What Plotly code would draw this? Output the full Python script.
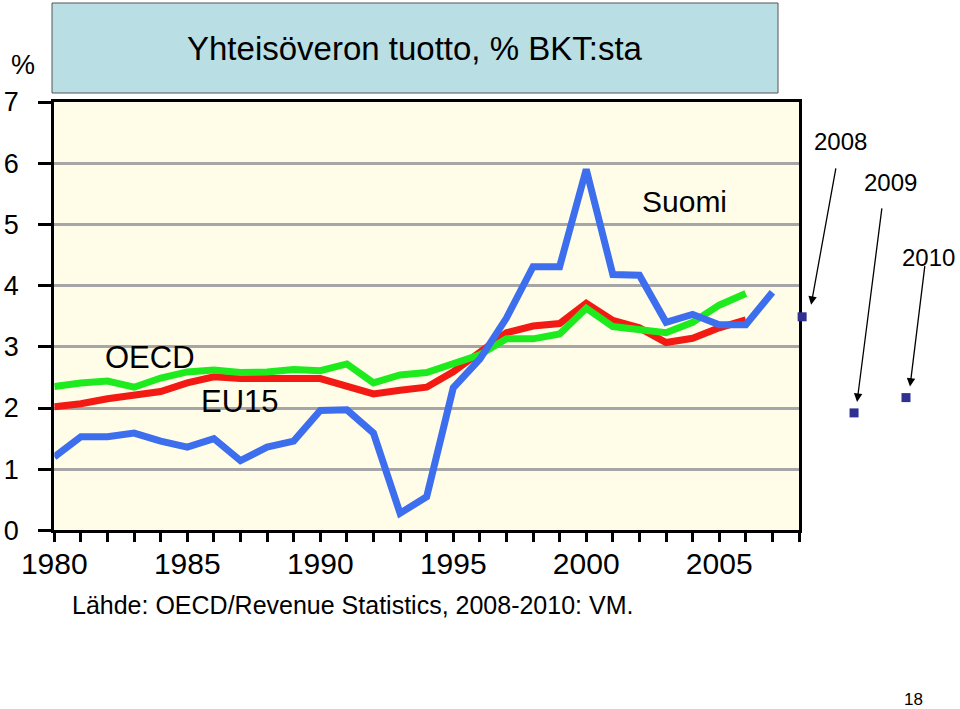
import plotly.graph_objects as go

W, H = 960, 709

years = list(range(1980, 2008))
suomi = [1.20, 1.53, 1.53, 1.59, 1.46, 1.36, 1.50, 1.14, 1.36, 1.46,
         1.96, 1.97, 1.59, 0.28, 0.55, 2.33, 2.80, 3.47, 4.31, 4.31,
         5.90, 4.18, 4.17, 3.40, 3.53, 3.36, 3.36, 3.89]
years_eu = list(range(1980, 2007))
eu15 = [2.02, 2.07, 2.15, 2.22, 2.27, 2.41, 2.51, 2.48, 2.49, 2.48,
        2.48, 2.35, 2.23, 2.29, 2.34, 2.59, 2.92, 3.23, 3.34, 3.38,
        3.71, 3.43, 3.31, 3.07, 3.14, 3.31, 3.44]
oecd = [2.35, 2.41, 2.44, 2.34, 2.49, 2.59, 2.62, 2.58, 2.59, 2.63,
        2.61, 2.72, 2.41, 2.54, 2.58, 2.74, 2.87, 3.13, 3.13, 3.21,
        3.63, 3.33, 3.28, 3.23, 3.40, 3.68, 3.87]
proj_years = [2008, 2009, 2010]
proj_vals = [3.49, 1.92, 2.17]
x_tickvals = [1980, 1985, 1990, 1995, 2000, 2005]
y_tickvals = [0, 1, 2, 3, 4, 5, 6, 7]

FONT = "Liberation Sans, Arial, sans-serif"

# pixel layout helpers
def px(x):
    return x / W

def py(y):
    return 1 - y / H

fig = go.Figure()
fig.add_trace(go.Scatter(x=years_eu, y=eu15, mode="lines",
                         line=dict(color="#F21A12", width=7), xaxis="x", yaxis="y"))
fig.add_trace(go.Scatter(x=years_eu, y=oecd, mode="lines",
                         line=dict(color="#1EEB1E", width=7), xaxis="x", yaxis="y"))
fig.add_trace(go.Scatter(x=years, y=suomi, mode="lines",
                         line=dict(color="#3D6EEE", width=7), xaxis="x", yaxis="y"))
fig.add_trace(go.Scatter(x=proj_years, y=proj_vals, mode="markers",
                         marker=dict(symbol="square", size=9, color="#2E3192"),
                         xaxis="x2", yaxis="y2", cliponaxis=False))

x_left, x_right = 54.3, 799.0
y_top, y_bot = 102.0, 530.4
ydom = [py(y_bot), py(y_top)]

fig.update_layout(
    template="none",
    width=W, height=H,
    margin=dict(l=0, r=0, t=0, b=0, autoexpand=False),
    paper_bgcolor="white",
    plot_bgcolor="rgba(0,0,0,0)",
    showlegend=False,
    font=dict(family=FONT, color="black"),
    xaxis=dict(domain=[px(x_left), px(x_right)], range=[1980, 2008],
               tickvals=x_tickvals, ticks="outside", ticklen=9, tickwidth=3,
               tickcolor="black", showline=True, linewidth=3, linecolor="black",
               mirror=True, showgrid=False, zeroline=False, automargin=False,
               tickfont=dict(size=30, family=FONT), ticklabelstandoff=-4,
               minor=dict(dtick=1, tick0=1980, ticks="outside", ticklen=9,
                          tickwidth=3, tickcolor="black", showgrid=False),
               anchor="y"),
    yaxis=dict(domain=ydom, range=[0, 7], tickvals=y_tickvals,
               ticks="outside", ticklen=13, tickwidth=3, tickcolor="black",
               showline=True, linewidth=3, linecolor="black", mirror=True,
               showgrid=True, gridcolor="#A6A6A6", gridwidth=2.5,
               zeroline=False, automargin=False, tickfont=dict(size=27, family=FONT),
               ticklabelstandoff=14, anchor="x"),
    xaxis2=dict(domain=[px(x_right), 1], range=[2007.94, 2011.04],
                visible=False, anchor="y2", automargin=False),
    yaxis2=dict(domain=ydom, range=[0, 7], visible=False, anchor="x2",
                showgrid=False, automargin=False),
)

shapes = [
    dict(type="rect", xref="x domain", yref="y domain", x0=0, x1=1, y0=0, y1=1,
         fillcolor="#FFFDE8", line=dict(width=0), layer="below"),
    dict(type="rect", xref="paper", yref="paper", x0=px(52), x1=px(778),
         y0=py(93), y1=py(3), fillcolor="#B9DEE3",
         line=dict(color="#555555", width=1)),
]
fig.update_layout(shapes=shapes)

ann = []
def text(t, x, y, size, xanchor="center"):
    ann.append(dict(text=t, x=px(x), y=py(y), xref="paper", yref="paper",
                    showarrow=False, xanchor=xanchor, yanchor="middle",
                    font=dict(size=size, family=FONT, color="black")))

text("Yhteisöveron tuotto, % BKT:sta", 415, 48, 33)
text("%", 23, 65, 27)
text("OECD", 150, 357, 31)
text("EU15", 240, 401, 31)
text("Suomi", 684, 201, 30)
text("Lähde: OECD/Revenue Statistics, 2008-2010: VM.", 70, 605, 25, xanchor="left")
text("2008", 840, 141, 24)
text("2009", 890, 182, 24)
text("2010", 928, 257, 24)
text("18", 913, 699, 17)

# arrows pointing at projection squares: (xshift, yshift, ax, ay)
arrow_specs = [(9, 12, 25, -138), (3, 11, 25, -195), (4, 11, 15, -122)]
for yr, val, (xs, ys, ax, ay) in zip(proj_years, proj_vals, arrow_specs):
    ann.append(dict(text="", x=yr, y=val, xref="x2", yref="y2",
                    xshift=xs, yshift=ys, ax=ax, ay=ay, axref="pixel", ayref="pixel",
                    showarrow=True, arrowhead=2, arrowsize=1.3, arrowwidth=1.3,
                    arrowcolor="black"))
fig.update_layout(annotations=ann)

fig.write_html(
    "out.html",
    config={"displayModeBar": False},
    post_script="document.body.style.margin='0';document.body.style.padding='0';"
                "document.documentElement.style.overflow='hidden';",
)
